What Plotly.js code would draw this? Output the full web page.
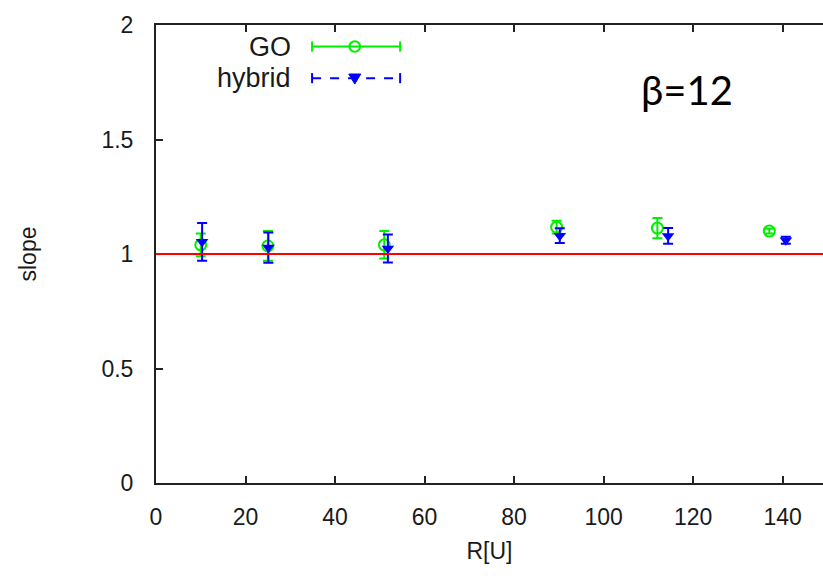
<!DOCTYPE html>
<html>
<head>
<meta charset="utf-8">
<script src="https://cdn.plot.ly/plotly-3.0.1.min.js"></script>
<style>html,body{margin:0;padding:0;overflow:hidden;background:#fff}</style>
</head>
<body>
<div id="chart" style="width:823px;height:578px"></div>
<script>
// ---- data ----
const R_GO      = [10.0, 25.0, 51.0, 89.5, 112.0, 137.0];
const slope_GO  = [1.04, 1.035, 1.04, 1.117, 1.113, 1.10];
const err_GO    = [0.05, 0.065, 0.06, 0.028, 0.044, 0.010];

const R_hybrid     = [10.3, 25.1, 51.8, 90.2, 114.4, 140.7];
const slope_hybrid = [1.053, 1.028, 1.024, 1.08, 1.079, 1.06];
const err_hybrid   = [0.082, 0.066, 0.061, 0.032, 0.034, 0.015];

const refSlope = 1;
const xTicks = [0, 20, 40, 60, 80, 100, 120, 140];
const yTicks = [0, 0.5, 1, 1.5, 2];
const yTickText = ['0', '0.5', '1', '1.5', '2'];

const GREEN = '#00ee00';
const BLUE = '#0000ff';
const FONT = 'Liberation Sans, Arial, sans-serif';
const TXT = '#1a1a1a';

const traces = [
  {
    x: R_GO, y: slope_GO, type: 'scatter', mode: 'markers', name: 'GO',
    marker: {symbol: 'circle-open', size: 11, color: GREEN, line: {width: 2, color: GREEN}},
    error_y: {type: 'data', array: err_GO, visible: true, color: GREEN, thickness: 2, width: 5}
  },
  {
    x: R_hybrid, y: slope_hybrid, type: 'scatter', mode: 'markers', name: 'hybrid',
    marker: {symbol: 'triangle-down', size: 11, color: BLUE},
    error_y: {type: 'data', array: err_hybrid, visible: true, color: BLUE, thickness: 2, width: 5}
  }
];

// legend drawn gnuplot-style (text left, sample right) in paper coordinates
const lx0 = 0.234, lx1 = 0.366, lxm = 0.298;
const lyGO = 0.953, lyHy = 0.884;
const capH = 0.011;
const shapes = [
  {type: 'line', xref: 'paper', yref: 'y', x0: 0, x1: 1, y0: refSlope, y1: refSlope,
   line: {color: '#ff0000', width: 2}},
  // GO sample
  {type: 'line', xref: 'paper', yref: 'paper', x0: lx0, x1: lx1, y0: lyGO, y1: lyGO, line: {color: GREEN, width: 2}},
  {type: 'line', xref: 'paper', yref: 'paper', x0: lx0, x1: lx0, y0: lyGO - capH, y1: lyGO + capH, line: {color: GREEN, width: 2}},
  {type: 'line', xref: 'paper', yref: 'paper', x0: lx1, x1: lx1, y0: lyGO - capH, y1: lyGO + capH, line: {color: GREEN, width: 2}},
  {type: 'circle', xref: 'paper', yref: 'paper', x0: lxm - 0.008, x1: lxm + 0.008, y0: lyGO - 0.0115, y1: lyGO + 0.0115,
   line: {color: GREEN, width: 2}, fillcolor: 'rgba(0,0,0,0)'},
  // hybrid sample
  {type: 'line', xref: 'paper', yref: 'paper', x0: lx0, x1: lx1, y0: lyHy, y1: lyHy, line: {color: BLUE, width: 2, dash: 'dash'}},
  {type: 'line', xref: 'paper', yref: 'paper', x0: lx0, x1: lx0, y0: lyHy - capH, y1: lyHy + capH, line: {color: BLUE, width: 2}},
  {type: 'line', xref: 'paper', yref: 'paper', x0: lx1, x1: lx1, y0: lyHy - capH, y1: lyHy + capH, line: {color: BLUE, width: 2}},
  {type: 'path', xref: 'paper', yref: 'paper',
   path: `M ${lxm - 0.009} ${lyHy + 0.009} L ${lxm + 0.009} ${lyHy + 0.009} L ${lxm} ${lyHy - 0.013} Z`,
   line: {color: BLUE, width: 1}, fillcolor: BLUE}
];

const annotations = [
  {xref: 'paper', yref: 'paper', x: 0.205, y: lyGO, xanchor: 'right', yanchor: 'middle', showarrow: false,
   text: 'GO', font: {family: FONT, size: 27, color: TXT}},
  {xref: 'paper', yref: 'paper', x: 0.205, y: lyHy, xanchor: 'right', yanchor: 'middle', showarrow: false,
   text: 'hybrid', font: {family: FONT, size: 27, color: TXT}},
  {xref: 'paper', yref: 'paper', x: 0.724, y: 0.857, xanchor: 'left', yanchor: 'middle', showarrow: false,
   text: 'β=12', font: {family: 'Lato, Open Sans, sans-serif', size: 40, color: '#000'}}
];

const layout = {
  width: 823, height: 578,
  margin: {l: 156, r: 0, t: 25, b: 95, pad: 0},
  paper_bgcolor: '#fff', plot_bgcolor: '#fff',
  showlegend: false,
  font: {family: FONT, size: 23, color: TXT},
  xaxis: {
    range: [0, 149], tickvals: xTicks, ticktext: xTicks.map(String),
    ticks: 'inside', ticklen: 7, tickwidth: 2, tickcolor: '#222',
    showline: true, linecolor: '#222', linewidth: 2, mirror: 'ticks',
    showgrid: false, zeroline: false,
    ticklabelstandoff: 12,
    tickfont: {family: FONT, size: 23, color: TXT},
    title: {text: 'R[U]', font: {family: FONT, size: 23, color: TXT}, standoff: 14}
  },
  yaxis: {
    range: [0, 2], tickvals: yTicks, ticktext: yTickText,
    ticks: 'inside', ticklen: 7, tickwidth: 2, tickcolor: '#222',
    showline: true, linecolor: '#222', linewidth: 2, mirror: false,
    showgrid: false, zeroline: false,
    tickfont: {family: FONT, size: 23, color: TXT},
    ticklabelstandoff: 16,
    title: {text: 'slope', font: {family: FONT, size: 23, color: TXT}, standoff: 58}
  },
  shapes: shapes,
  annotations: annotations
};

Plotly.newPlot('chart', traces, layout, {staticPlot: true, displayModeBar: false});
</script>
</body>
</html>
